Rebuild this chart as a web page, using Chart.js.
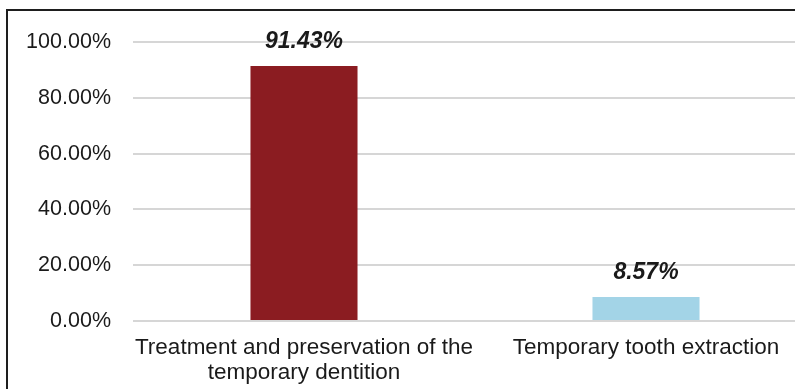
<!DOCTYPE html>
<html>
<head>
<meta charset="utf-8">
<script src="https://cdn.jsdelivr.net/npm/chart.js@4/dist/chart.umd.min.js"></script>
<style>
    html, body { margin: 0; padding: 0; background: #fff; }
    body { width: 795px; height: 389px; overflow: hidden; position: relative; }
    #wrap { position: absolute; left: 0; top: 0; width: 817px; height: 389px; }
    #frame {
        position: absolute; left: 6px; top: 9px; width: 830px; height: 400px;
        border-left: 2px solid #1e1e1e; border-top: 2px solid #1e1e1e;
        pointer-events: none;
    }
</style>
</head>
<body>
<div id="wrap"><canvas id="chart"></canvas></div>
<div id="frame"></div>
<script>
// Share of each treatment choice, in percent
const categories = [
    ['Treatment and preservation of the', 'temporary dentition'],
    'Temporary tooth extraction'
];
const shares = [91.43, 8.57];
const barColors = ['#8b1c21', '#a3d4e7'];
const yTicks = [0, 20, 40, 60, 80, 100];

const FONT = "'Liberation Sans', Arial, sans-serif";

// Writes the value over each bar in bold italic
const valueLabels = {
    id: 'valueLabels',
    afterDatasetsDraw(chart) {
        const ctx = chart.ctx;
        const meta = chart.getDatasetMeta(0);
        ctx.save();
        ctx.font = `italic bold 23px ${FONT}`;
        ctx.fillStyle = '#1a1a1a';
        ctx.textAlign = 'center';
        ctx.textBaseline = 'bottom';
        meta.data.forEach((bar, i) => {
            ctx.fillText(shares[i].toFixed(2) + '%', bar.x, bar.y - 13);
        });
        ctx.restore();
    }
};

new Chart(document.getElementById('chart'), {
    type: 'bar',
    data: {
        labels: categories,
        datasets: [{
            data: shares,
            backgroundColor: barColors,
            borderWidth: 0,
            barPercentage: 0.313,
            categoryPercentage: 1
        }]
    },
    options: {
        responsive: true,
        maintainAspectRatio: false,
        animation: false,
        layout: { padding: { top: 42, left: 0, right: 0, bottom: 0 } },
        plugins: {
            legend: { display: false },
            tooltip: { enabled: false }
        },
        scales: {
            x: {
                grid: { display: false, drawTicks: false },
                border: { display: false },
                ticks: {
                    color: '#1a1a1a',
                    font: { family: FONT, size: 22.5, lineHeight: 1.12 },
                    padding: 14,
                    maxRotation: 0,
                    autoSkip: false
                },
                afterFit: scale => { scale.height = 68; }
            },
            y: {
                min: 0,
                max: 100,
                afterBuildTicks: scale => {
                    scale.ticks = yTicks.map(v => ({ value: v }));
                },
                grid: { color: '#d6d6d6', lineWidth: 2, drawTicks: false },
                border: { display: false },
                ticks: {
                    color: '#1a1a1a',
                    font: { family: FONT, size: 21.5 },
                    padding: 22,
                    callback: v => v.toFixed(2) + '%'
                },
                afterFit: scale => { scale.width = 133; }
            }
        }
    },
    plugins: [valueLabels]
});
</script>
</body>
</html>
